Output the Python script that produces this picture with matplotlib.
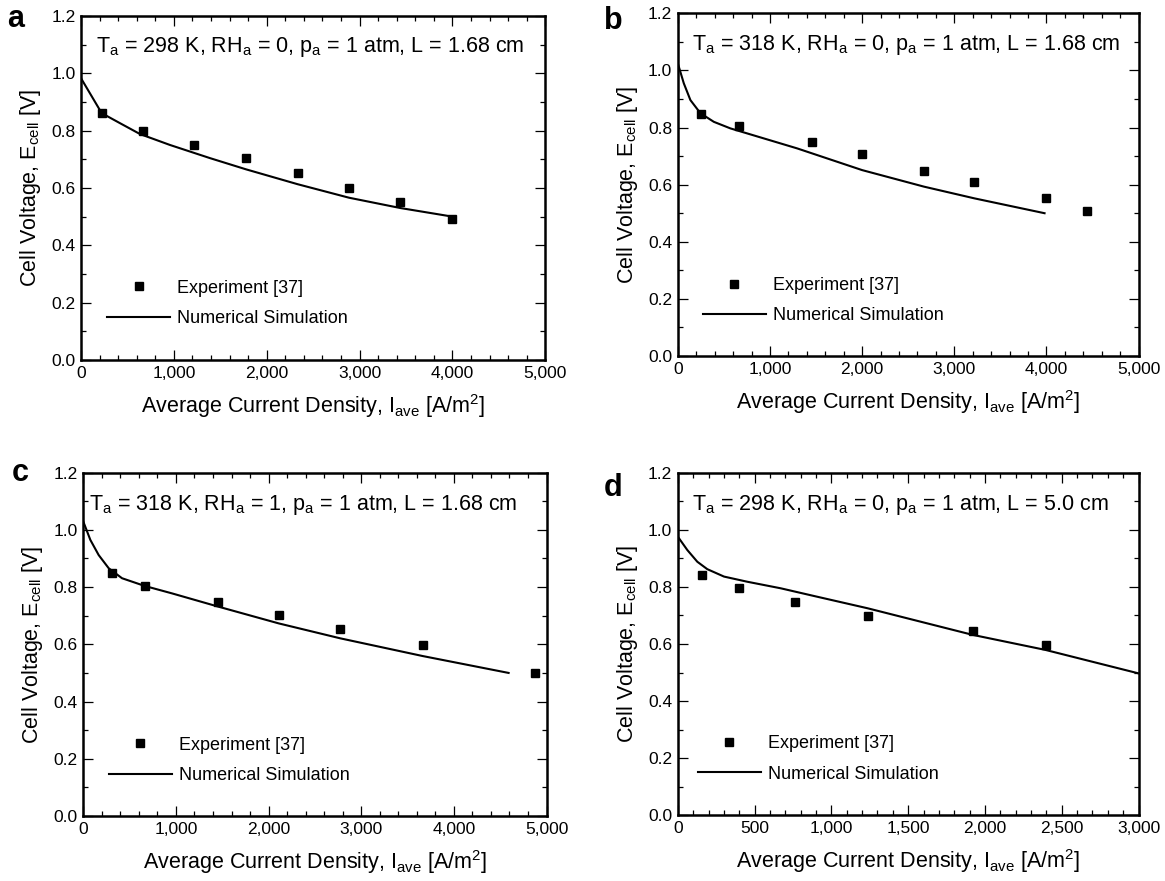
import matplotlib
matplotlib.use('Agg')
import matplotlib.pyplot as plt
from matplotlib.ticker import MultipleLocator, FuncFormatter

plt.rcParams['font.family'] = ['Liberation Sans', 'DejaVu Sans']
plt.rcParams['mathtext.fontset'] = 'custom'
plt.rcParams['mathtext.rm'] = 'Liberation Sans'
plt.rcParams['mathtext.it'] = 'Liberation Sans'

# experiment [37]
exp_a_x = [223, 664, 1221, 1777, 2334, 2886, 3439, 3995]
exp_a_y = [0.861, 0.800, 0.750, 0.705, 0.652, 0.600, 0.551, 0.492]
exp_b_x = [257, 662, 1453, 2000, 2672, 3219, 3992, 4437]
exp_b_y = [0.846, 0.805, 0.749, 0.707, 0.648, 0.609, 0.553, 0.508]
exp_c_x = [313, 670, 1453, 2111, 2773, 3664, 4880]
exp_c_y = [0.848, 0.804, 0.748, 0.703, 0.654, 0.599, 0.500]
exp_d_x = [160, 398, 760, 1236, 1919, 2395]
exp_d_y = [0.842, 0.797, 0.747, 0.698, 0.647, 0.598]

# numerical simulation
sim_a_x = [0, 97, 223, 420, 636, 958, 1390, 1777, 2334, 2886, 3439, 4000]
sim_a_y = [0.983, 0.930, 0.861, 0.826, 0.788, 0.750, 0.704, 0.665, 0.613, 0.566, 0.530, 0.500]
sim_b_x = [0, 65, 137, 246, 391, 571, 933, 1295, 2000, 2672, 3219, 3980]
sim_b_y = [1.025, 0.955, 0.896, 0.850, 0.820, 0.797, 0.762, 0.727, 0.651, 0.593, 0.552, 0.500]
sim_c_x = [0, 76, 166, 274, 418, 663, 958, 1454, 2111, 2773, 3664, 4591]
sim_c_y = [1.029, 0.965, 0.912, 0.866, 0.831, 0.804, 0.778, 0.732, 0.673, 0.621, 0.559, 0.500]
sim_d_x = [0, 62, 127, 192, 301, 452, 670, 887, 1236, 1919, 2395, 3000]
sim_d_y = [0.976, 0.929, 0.888, 0.862, 0.836, 0.818, 0.795, 0.768, 0.725, 0.632, 0.579, 0.497]

labels = ['a', 'b', 'c', 'd']
conditions = [
    r'T$_\mathrm{a}$ = 298 K, RH$_\mathrm{a}$ = 0, p$_\mathrm{a}$ = 1 atm, L = 1.68 cm',
    r'T$_\mathrm{a}$ = 318 K, RH$_\mathrm{a}$ = 0, p$_\mathrm{a}$ = 1 atm, L = 1.68 cm',
    r'T$_\mathrm{a}$ = 318 K, RH$_\mathrm{a}$ = 1, p$_\mathrm{a}$ = 1 atm, L = 1.68 cm',
    r'T$_\mathrm{a}$ = 298 K, RH$_\mathrm{a}$ = 0, p$_\mathrm{a}$ = 1 atm, L = 5.0 cm',
]
xmax = [5000, 5000, 5000, 3000]
xmajor = [1000, 1000, 1000, 500]
xminor = [200, 200, 200, 100]

exps = [(exp_a_x, exp_a_y), (exp_b_x, exp_b_y), (exp_c_x, exp_c_y), (exp_d_x, exp_d_y)]
sims = [(sim_a_x, sim_a_y), (sim_b_x, sim_b_y), (sim_c_x, sim_c_y), (sim_d_x, sim_d_y)]

# axes boxes [left, bottom, width, height] in figure fractions
boxes = [
    [0.0695, 0.5914, 0.3986, 0.3905],
    [0.5818, 0.5959, 0.3955, 0.3890],
    [0.0715, 0.0738, 0.3976, 0.3897],
    [0.5818, 0.0746, 0.3955, 0.3889],
]
leg_pos = [(0.056, 0.233), (0.054, 0.231), (0.055, 0.231), (0.043, 0.234)]
cond_pos = [(0.032, 0.945), (0.030, 0.942), (0.013, 0.942), (0.030, 0.942)]
letter_pos = [(-0.158, 0.99), (-0.16, 0.977), (-0.155, 1.0), (-0.16, 0.955)]

fig = plt.figure(figsize=(11.65, 8.81), dpi=100)
comma = FuncFormatter(lambda v, p: f'{int(round(v)):,}')

for i in range(4):
    ax = fig.add_axes(boxes[i])
    ax.plot(exps[i][0], exps[i][1], 's', color='black', markersize=5.5, label='Experiment [37]')
    ax.plot(sims[i][0], sims[i][1], '-', color='black', linewidth=1.5, label='Numerical Simulation')
    ax.set_xlim(0, xmax[i])
    ax.set_ylim(0, 1.2)
    ax.xaxis.set_major_locator(MultipleLocator(xmajor[i]))
    ax.xaxis.set_minor_locator(MultipleLocator(xminor[i]))
    ax.yaxis.set_major_locator(MultipleLocator(0.2))
    ax.yaxis.set_minor_locator(MultipleLocator(0.1))
    ax.xaxis.set_major_formatter(comma)
    ax.yaxis.set_major_formatter(FuncFormatter(lambda v, p: f'{v:.1f}'))
    ax.tick_params(which='both', direction='in', top=True, right=True, labelsize=12.5, width=0.9)
    ax.tick_params(which='major', length=7, pad=4)
    ax.tick_params(which='minor', length=3.5)
    for s in ax.spines.values():
        s.set_linewidth(1.8)
    ax.set_xlabel(r'Average Current Density, I$_\mathrm{ave}$ [A/m$^2$]', fontsize=15.5, labelpad=8)
    ax.set_ylabel(r'Cell Voltage, E$_\mathrm{cell}$ [V]', fontsize=15.5, labelpad=6)
    ax.text(cond_pos[i][0], cond_pos[i][1], conditions[i], transform=ax.transAxes,
            fontsize=15.5, va='top', ha='left')
    ax.text(letter_pos[i][0], letter_pos[i][1], labels[i], transform=ax.transAxes,
            fontsize=22, fontweight='bold', va='center', ha='left')
    ax.legend(loc='upper left', bbox_to_anchor=leg_pos[i], frameon=False, fontsize=13,
              handlelength=3.5, handletextpad=0.4, labelspacing=0.75,
              borderaxespad=0, borderpad=0)

fig.savefig('out.png', dpi=100)
